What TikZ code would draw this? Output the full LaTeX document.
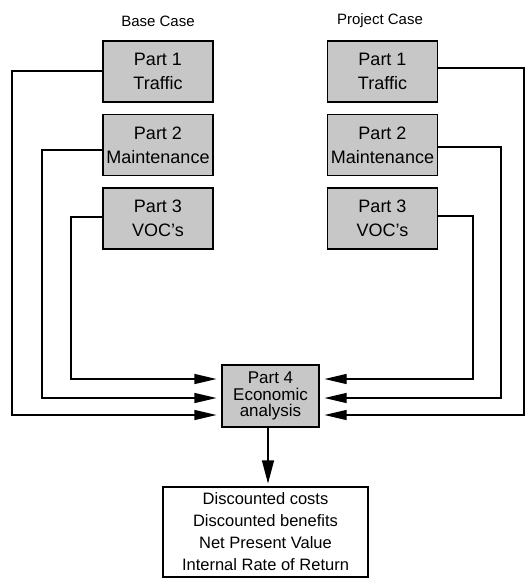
\documentclass[tikz,border=0pt]{standalone}
\usepackage{fontspec}
\setmainfont{Liberation Sans}
\usetikzlibrary{arrows.meta}
\begin{document}
\begin{tikzpicture}[x=1pt,y=-1pt,
  partbox/.style={draw, line width=1.1pt, fill=black!22, minimum width=110pt, minimum height=61pt, inner sep=0pt, align=center, font=\fontsize{18}{24}\selectfont},
  resbox/.style={draw, line width=1.1pt, fill=white, minimum width=205pt, minimum height=90pt, inner sep=0pt, align=center, font=\fontsize{16.5}{22}\selectfont},
  caselabel/.style={font=\fontsize{15}{18}\selectfont},
  conn/.style={line width=1.1pt},
  arr/.style={conn, -{Triangle[length=22pt,width=10pt]}, shorten >=5pt},
  darr/.style={conn, -{Triangle[length=23pt,width=12pt]}, shorten >=3pt}]
\useasboundingbox (0,0) rectangle (525,579);
% labels
\node[caselabel] (bl) at (158,21) {Base Case};
\node[caselabel] (pl) at (380,21) {Project Case};
% base case boxes
\node[partbox] (b1) at (158,71.5) {Part 1\\Traffic};
\node[partbox] (b2) at (158,145) {Part 2\\Maintenance};
\node[partbox] (b3) at (158,218.5) {Part 3\\VOC's};
% project case boxes
\node[partbox] (p1) at (382.5,71.5) {Part 1\\Traffic};
\node[partbox] (p2) at (382.5,145) {Part 2\\Maintenance};
\node[partbox] (p3) at (382.5,218.5) {Part 3\\VOC's};
% economic analysis
\node[partbox, minimum width=97pt, minimum height=62pt, font=\fontsize{17}{16.5}\selectfont] (p4) at (270.5,396) {Part 4\\Economic\\analysis};
% results
\node[resbox] (res) at (265.5,532) {Discounted costs\\Discounted benefits\\Net Present Value\\Internal Rate of Return};
% left connectors
\draw[arr] (b1.west |- 0,71) -- (12,71) -- (12,415) -- (p4.west |- 0,415);
\draw[arr] (b2.west |- 0,150) -- (42,150) -- (42,398) -- (p4.west |- 0,398);
\draw[arr] (b3.west |- 0,217) -- (71,217) -- (71,379) -- (p4.west |- 0,379);
% right connectors
\draw[arr] (p1.east |- 0,68) -- (524,68) -- (524,415) -- (p4.east |- 0,415);
\draw[arr] (p2.east |- 0,147) -- (501,147) -- (501,398) -- (p4.east |- 0,398);
\draw[arr] (p3.east |- 0,216) -- (473,216) -- (473,379) -- (p4.east |- 0,379);
% down arrow
\draw[darr] (p4.south -| 268,0) -- (res.north -| 268,0);
\end{tikzpicture}
\end{document}
